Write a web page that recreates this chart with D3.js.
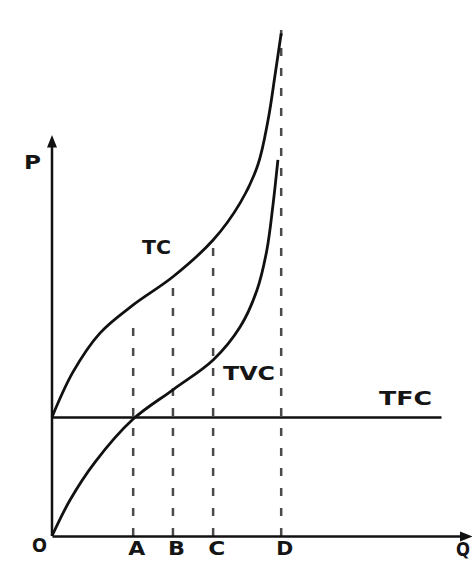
<!DOCTYPE html>
<html>
<head>
<meta charset="utf-8">
<script src="https://cdn.jsdelivr.net/npm/d3@7"></script>
<style>
body { margin: 0; background: #fff; }
text { font-family: "DejaVu Sans", "Liberation Sans", Arial, sans-serif; font-weight: bold; fill: #151515; }
</style>
</head>
<body>
<div id="chart"></div>
<script>
// total cost curve (quantity, cost)
var tcQ    = [0, 5.1, 11.7, 19.8, 29.5, 39.3, 45.9, 50.2, 52.7, 54.4, 55.9];
var tcCost = [30.4, 41.9, 51.9, 59.1, 66.3, 75.7, 85.2, 94.9, 106.4, 117.9, 128.6];

// total variable cost curve
var tvcQ    = [0, 4.4, 10.5, 19.8, 29.5, 39.3, 45.9, 50.0, 52.4, 53.9, 55.1];
var tvcCost = [0, 9.2, 18.9, 29.9, 37.4, 45.0, 53.5, 62.9, 73.1, 84.7, 96.2];

// total fixed cost
var tfcCost = 30.3;
var tfcEnd = 95;

// output levels marked on the Q axis
var markQ = [19.8, 29.5, 39.3, 55.9];
var markLabels = ["A", "B", "C", "D"];
var markTop = [55.5, 64.7, 75.7, 129.4];

var w = 472;
var h = 562;

var x = d3.scaleLinear().domain([0, 100]).range([52, 462]);
var y = d3.scaleLinear().domain([0, 100]).range([536, 145]);

var svg = d3.select("#chart")
  .append("svg")
  .attr("width", w)
  .attr("height", h);

var defs = svg.append("defs");
defs.append("marker")
  .attr("id", "arrow")
  .attr("viewBox", "0 0 10 10")
  .attr("refX", 2)
  .attr("refY", 5)
  .attr("markerWidth", 5)
  .attr("markerHeight", 5)
  .attr("markerUnits", "strokeWidth")
  .attr("orient", "auto")
  .append("path")
  .attr("d", "M0,1 L10,5 L0,9 Z")
  .attr("fill", "#111");

// dashed guides from the Q axis up to TC
svg.selectAll("line.guide")
  .data(markQ)
  .enter().append("line")
  .attr("class", "guide")
  .attr("x1", function(d) { return x(d); })
  .attr("x2", function(d) { return x(d); })
  .attr("y1", y(0))
  .attr("y2", function(d, i) { return y(markTop[i]); })
  .attr("stroke", "#4a4a4a")
  .attr("stroke-width", 2.5)
  .attr("stroke-dasharray", "8,12");

// axes
var xAxis = d3.axisBottom(x)
  .tickValues(markQ)
  .tickFormat(function(d, i) { return markLabels[i]; })
  .tickSizeInner(0)
  .tickSizeOuter(0)
  .tickPadding(6);

var gx = svg.append("g")
  .attr("transform", "translate(0," + y(0) + ")")
  .call(xAxis);
gx.select(".domain")
  .attr("stroke", "#111")
  .attr("stroke-width", 2.5)
  .attr("marker-end", "url(#arrow)");
gx.selectAll("text")
  .attr("font-size", 19)
  .attr("font-family", null)
  .attr("fill", null)
  .attr("dx", 3)
  .attr("textLength", 17)
  .attr("lengthAdjust", "spacingAndGlyphs");

svg.append("line")
  .attr("x1", x(0)).attr("y1", y(0))
  .attr("x2", x(0)).attr("y2", y(100))
  .attr("stroke", "#111")
  .attr("stroke-width", 2.5)
  .attr("marker-end", "url(#arrow)");

// TFC
svg.append("line")
  .attr("x1", x(0)).attr("y1", y(tfcCost))
  .attr("x2", x(tfcEnd)).attr("y2", y(tfcCost))
  .attr("stroke", "#111")
  .attr("stroke-width", 2.6);

var line = d3.line()
  .x(function(d) { return x(d[0]); })
  .y(function(d) { return y(d[1]); })
  .curve(d3.curveCatmullRom.alpha(0.5));

svg.append("path")
  .datum(d3.zip(tcQ, tcCost))
  .attr("d", line)
  .attr("fill", "none")
  .attr("stroke", "#111")
  .attr("stroke-width", 2.8);

svg.append("path")
  .datum(d3.zip(tvcQ, tvcCost))
  .attr("d", line)
  .attr("fill", "none")
  .attr("stroke", "#111")
  .attr("stroke-width", 2.8);

// labels
function label(t, lx, ly, len) {
  svg.append("text")
    .attr("x", lx).attr("y", ly)
    .attr("font-size", 20)
    .attr("textLength", len)
    .attr("lengthAdjust", "spacingAndGlyphs")
    .text(t);
}
label("TC", 142, 254, 29);
label("TVC", 223, 380, 52);
label("TFC", 379, 405, 53);
label("P", 24, 169, 17);
label("O", 32, 552, 15);
label("Q", 456, 556, 14);
</script>
</body>
</html>
